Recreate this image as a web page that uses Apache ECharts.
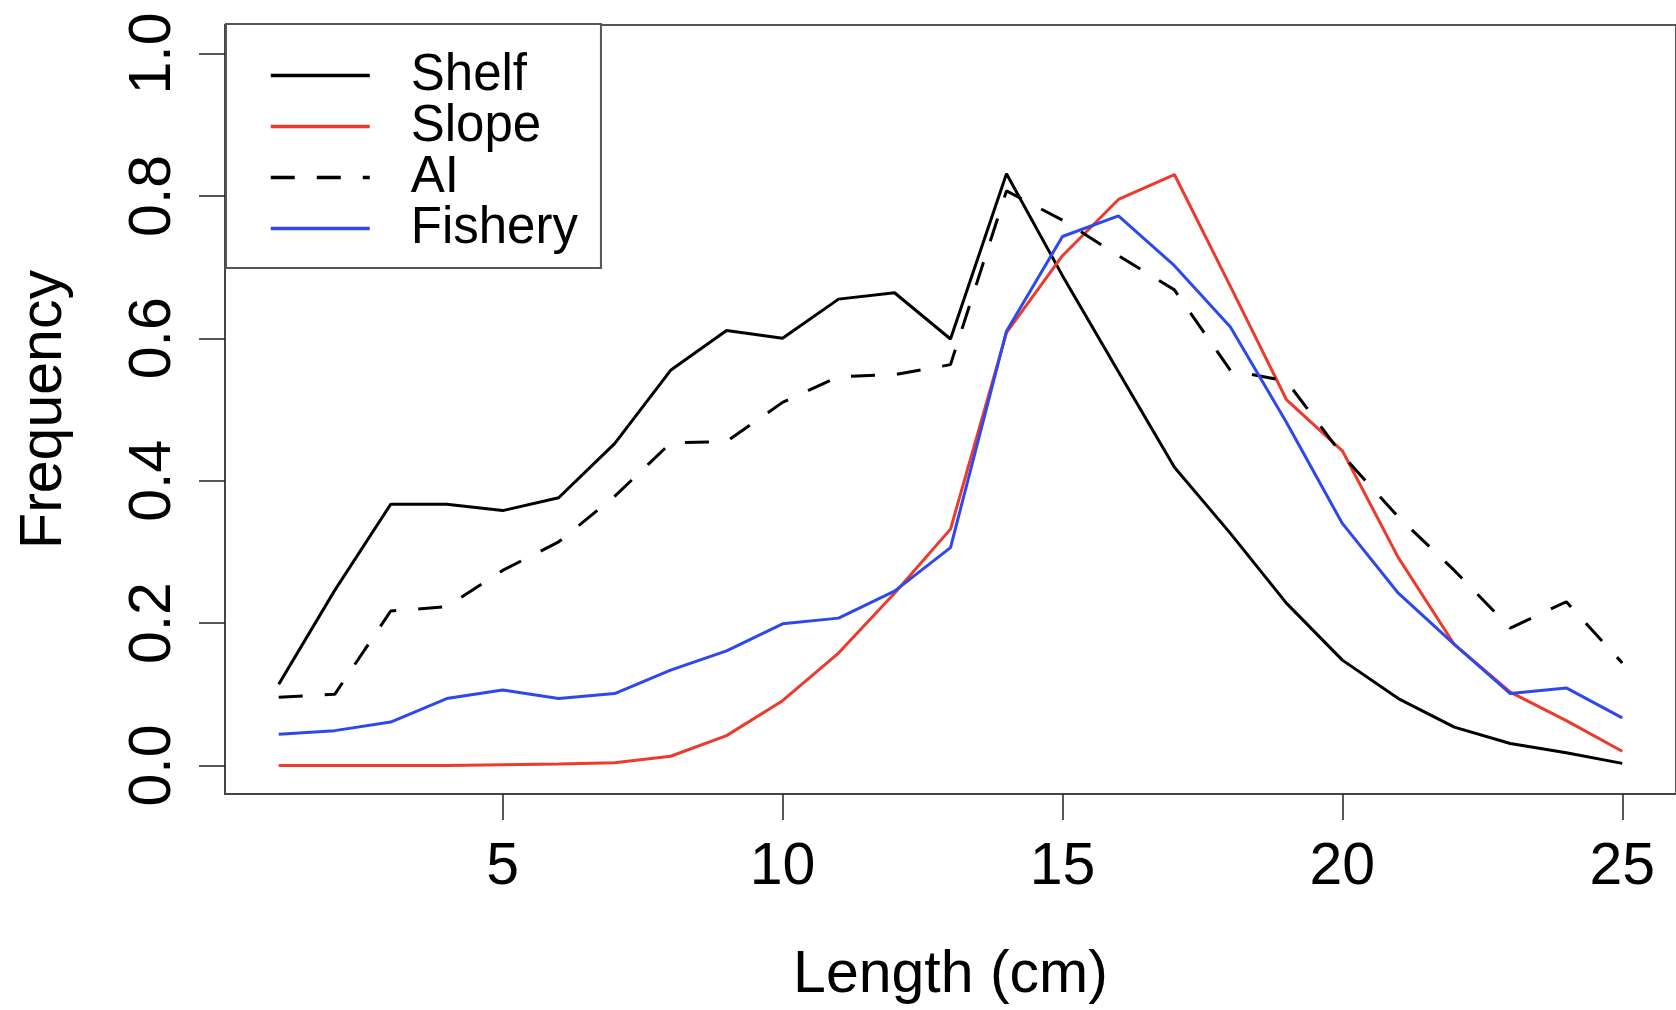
<!DOCTYPE html>
<html>
<head>
<meta charset="utf-8">
<script src="https://cdn.jsdelivr.net/npm/echarts@6/dist/echarts.min.js"></script>
<style>
html,body{margin:0;padding:0;background:#fff;}
#chart{width:1676px;height:1010px;}
</style>
</head>
<body>
<div id="chart"></div>
<script>
const lengths = [1,2,3,4,5,6,7,8,9,10,11,12,13,14,15,16,17,18,19,20,21,22,23,24,25];
const shelf   = [0.114,0.246,0.367,0.367,0.358,0.376,0.452,0.555,0.611,0.600,0.655,0.664,0.599,0.831,0.688,0.553,0.419,0.326,0.228,0.148,0.094,0.054,0.031,0.018,0.003];
const slope   = [0.000,0.000,0.000,0.000,0.001,0.002,0.004,0.013,0.042,0.091,0.158,0.242,0.332,0.608,0.716,0.795,0.830,0.673,0.514,0.442,0.292,0.170,0.103,0.063,0.020];
const ai      = [0.096,0.100,0.217,0.223,0.274,0.314,0.378,0.453,0.455,0.510,0.546,0.549,0.563,0.807,0.766,0.716,0.668,0.555,0.540,0.436,0.349,0.274,0.193,0.230,0.144];
const fishery = [0.044,0.049,0.061,0.094,0.106,0.094,0.101,0.134,0.161,0.199,0.207,0.245,0.306,0.610,0.743,0.772,0.702,0.616,0.482,0.340,0.242,0.170,0.101,0.109,0.067];
const xTicks = [5,10,15,20,25];
const yTicks = [0,0.2,0.4,0.6,0.8,1.0];
const seriesNames = ['Shelf','Slope','AI','Fishery'];

const FONT = '"Liberation Sans", Arial, Helvetica, sans-serif';
const pairs = arr => lengths.map((x,i)=>[x, arr[i]]);

const chart = echarts.init(document.getElementById('chart'));
const mk = (name, data, color, type) => ({
  name, type:'line', data: pairs(data), symbol:'none', smooth:false,
  lineStyle:{color, width:3, type: type||'solid', dashOffset:0},
  itemStyle:{color}, animation:false
});
chart.setOption({
  backgroundColor:'#fff',
  animation:false,
  grid:{left:225, top:25, width:1463, height:772.6, show:true, borderColor:'#555', borderWidth:2, backgroundColor:'transparent'},
  xAxis:{
    type:'value', min:0.04, max:25.96,
    name:'Length (cm)', nameLocation:'middle', nameGap:152,
    nameTextStyle:{fontFamily:FONT, fontSize:59, color:'#000'},
    axisLine:{show:true, onZero:false, lineStyle:{color:'#444', width:2}},
    axisTick:{show:true, customValues:xTicks, length:26, lineStyle:{color:'#222', width:1.5}},
    axisLabel:{customValues:xTicks, margin:44, fontFamily:FONT, fontSize:59, color:'#000'},
    splitLine:{show:false}
  },
  yAxis:{
    type:'value', min:-0.04, max:1.04,
    name:'Frequency', nameLocation:'middle', nameGap:151, nameRotate:90,
    nameTextStyle:{fontFamily:FONT, fontSize:59, color:'#000'},
    axisLine:{show:true, onZero:false, lineStyle:{color:'#444', width:2}},
    axisTick:{show:true, customValues:yTicks, length:26, lineStyle:{color:'#222', width:1.5}},
    axisLabel:{customValues:yTicks, rotate:90, margin:42, fontFamily:FONT, fontSize:59, color:'#000',
      formatter: v => Number(v).toFixed(1)},
    splitLine:{show:false}
  },
  legend:{
    data: seriesNames,
    orient:'vertical', left:226, top:24,
    padding:[26,23,14,43],
    itemWidth:99, itemHeight:50, itemGap:0,
    borderColor:'#555', borderWidth:2, backgroundColor:'#fff',
    itemStyle:{opacity:0},
    lineStyle:{width:3.5},
    textStyle:{fontFamily:FONT, fontSize:51, color:'#000', padding:[0,0,0,36], lineHeight:50},
    selectedMode:false
  },
  series:[
    mk(seriesNames[0], shelf, '#000000'),
    mk(seriesNames[1], slope, '#ec3a2c'),
    mk(seriesNames[2], ai, '#000000', [24,22]),
    mk(seriesNames[3], fishery, '#2e48ee')
  ]
});
</script>
</body>
</html>
